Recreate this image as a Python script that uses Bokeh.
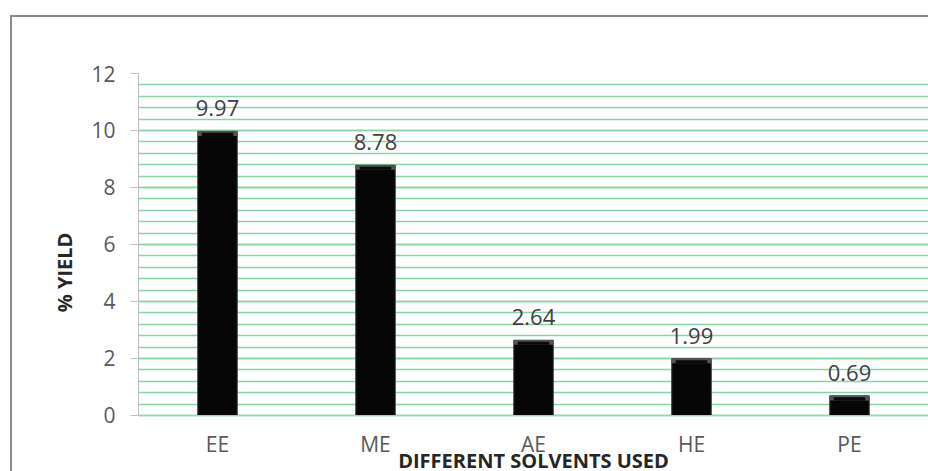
from bokeh.plotting import figure
from bokeh.models import FactorRange, Range1d, ColumnDataSource, SingleIntervalTicker
from bokeh.core.properties import value
from bokeh.embed import file_html
from bokeh.resources import INLINE

solvents = ["EE", "ME", "AE", "HE", "PE"]
yields = [9.97, 8.78, 2.64, 1.99, 0.69]
value_labels = ["9.97", "8.78", "2.64", "1.99", "0.69"]
y_title = "% YIELD"
x_title = "DIFFERENT SOLVENTS USED"

FONT = "Open Sans"

p = figure(
    x_range=FactorRange(*solvents),
    y_range=Range1d(-1.965, 12),
    width=928, height=471,
    output_backend="svg", toolbar_location=None,
    min_border_left=138, min_border_right=0,
    min_border_top=73, min_border_bottom=0,
    background_fill_color="white", border_fill_color=None,
)
p.styles = {
    "background-color": "white",
    "background-image": "linear-gradient(#8c8c8c, #8c8c8c), linear-gradient(#8c8c8c, #8c8c8c)",
    "background-size": "2px 100%, 100% 2px",
    "background-position": "10px 15px, 10px 15px",
    "background-repeat": "no-repeat",
}
p.outline_line_color = None

src = ColumnDataSource(dict(
    x=solvents, top=yields,
    bev_bottom=[v - 0.16 for v in yields],
    inner_top=[v - 0.05 for v in yields],
    label=value_labels,
))

p.vbar(x="x", top="top", bottom=0, width=0.25, source=src,
       fill_color="#060606", line_color="#3a3a3a", line_width=1)
p.vbar(x="x", top="top", bottom="bev_bottom", width=0.25, source=src,
       fill_color="#555555", line_color=None)
p.vbar(x="x", top="inner_top", bottom="bev_bottom", width=0.2, source=src,
       fill_color="#0a0a0a", line_color=None)

p.text(x="x", y="top", text="label", source=src, y_offset=-23,
       text_align="center", text_baseline="middle",
       text_font=value(FONT), text_font_size="22px", text_color="#404040")

# y axis
ya = p.yaxis[0]
ya.ticker = SingleIntervalTicker(interval=2, num_minor_ticks=5)
ya.bounds = (0, 12)
ya.axis_line_color = "#bfbfbf"
ya.major_tick_line_color = "#bfbfbf"
ya.major_tick_out = 8
ya.major_tick_in = 0
ya.minor_tick_line_color = None
ya.major_label_text_font = FONT
ya.major_label_text_font_size = "21px"
ya.major_label_text_color = "#595959"
ya.major_label_standoff = 15
ya.axis_label = y_title
ya.axis_label_text_font = FONT
ya.axis_label_text_font_style = "bold"
ya.axis_label_text_font_size = "20px"
ya.axis_label_text_color = "#262626"
ya.axis_label_standoff = 10

# x axis drawn at y = 0
xa = p.xaxis[0]
xa.fixed_location = 0
xa.axis_line_color = "#bfbfbf"
xa.major_tick_line_color = None
xa.minor_tick_line_color = None
xa.major_label_text_font = FONT
xa.major_label_text_font_size = "21px"
xa.major_label_text_color = "#595959"
xa.major_label_standoff = 9
xa.axis_label = x_title
xa.axis_label_text_font = FONT
xa.axis_label_text_font_style = "bold"
xa.axis_label_text_font_size = "20px"
xa.axis_label_text_color = "#262626"
xa.axis_label_standoff = -15

p.xgrid.grid_line_color = None
p.ygrid.bounds = (0, 12)
p.ygrid.grid_line_color = "#86d6a4"
p.ygrid.grid_line_width = 1.6
p.ygrid.minor_grid_line_color = "#86d6a4"
p.ygrid.minor_grid_line_width = 1.6

open("out.html", "w").write(file_html(p, INLINE))
